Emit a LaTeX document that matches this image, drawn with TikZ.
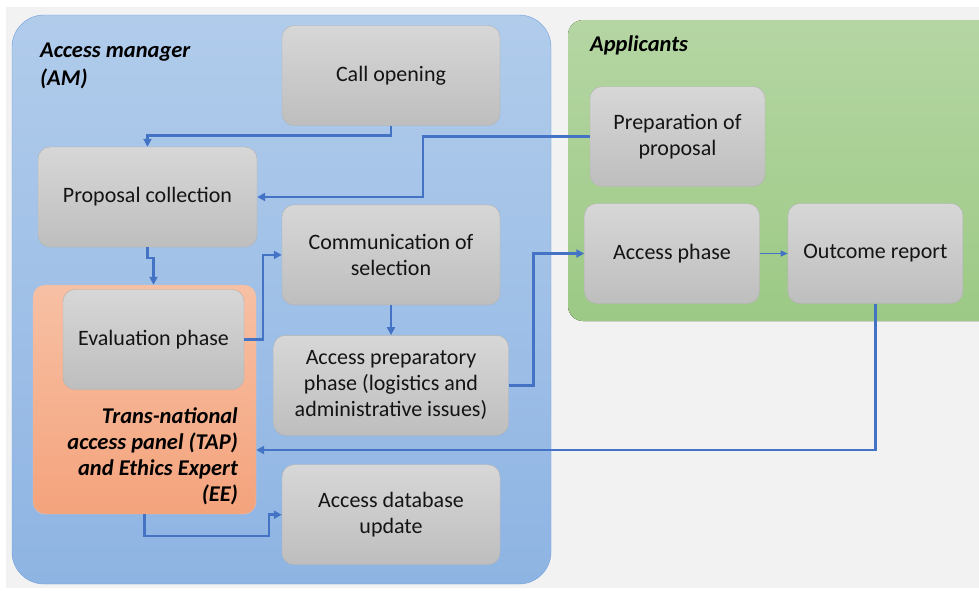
\documentclass[tikz,border=0pt]{standalone}
\usepackage{fontspec}
\setmainfont{Carlito}
\usepackage{tikz}
\usetikzlibrary{positioning}
\usetikzlibrary{calc}
\usetikzlibrary{arrows.meta}
\definecolor{bggray}{RGB}{242,242,242}
\definecolor{amtop}{RGB}{177,204,235}
\definecolor{ambot}{RGB}{142,180,227}
\definecolor{amline}{RGB}{112,160,222}
\definecolor{aptop}{RGB}{181,214,163}
\definecolor{apbot}{RGB}{156,201,133}
\definecolor{taptop}{RGB}{247,192,164}
\definecolor{tapbot}{RGB}{244,163,124}
\definecolor{boxtop}{RGB}{215,215,215}
\definecolor{boxbot}{RGB}{190,190,190}
\definecolor{boxline}{RGB}{178,178,178}
\definecolor{boxtext}{RGB}{20,20,20}
\definecolor{flowblue}{RGB}{68,114,196}
\tikzset{
	box/.style = {rectangle, rounded corners=12pt, draw=boxline, top color=boxtop, bottom color=boxbot, minimum height=100pt, align=center, inner sep=2pt, text=boxtext, font=\fontsize{22}{26}\selectfont},
	panel/.style = {rectangle, rounded corners=12pt, draw=tapbot!80!black!50, top color=taptop, bottom color=tapbot, minimum width=223pt, minimum height=229pt},
	title/.style = {inner sep=0pt, text=black, font=\fontsize{22.5}{26}\bfseries\itshape\selectfont},
	flow/.style = {draw=flowblue, line width=2.5pt, -{Triangle[length=8pt,width=8pt]}},
	thinflow/.style = {draw=flowblue, line width=1.2pt, -{Triangle[length=7pt,width=6pt]}}
}

\begin{document}
\begin{tikzpicture}[x=1pt, y=-1pt]
	\useasboundingbox (0,0) rectangle (979,590);
	\fill[white] (0,0) rectangle (979,590);
	\fill[bggray] (6,7) rectangle (979,588);
	
	% Groups
	\draw[amline, top color=amtop, bottom color=ambot, rounded corners=32pt] (12,15) rectangle (551,584);
	\fill[top color=aptop, bottom color=apbot, rounded corners=15pt] (568,20) rectangle (1010,321);
	\node (am) [title, anchor=west, align=left, font=\fontsize{22.5}{28}\bfseries\itshape\selectfont] at (40,66) {Access manager\\(AM)};
	\node (appl) [title, anchor=west] at (590,45) {Applicants};
	\node (tap) [panel] at (144.5,399.5) {};
	\node (taptext) [title, anchor=east, align=right] at (238,456) {Trans-national\\access panel (TAP)\\and Ethics Expert\\(EE)};
	
	% Steps
	\node (call) [box, minimum width=218pt] at (391,75.5) {Call opening};
	\node (comm) [box, minimum width=218pt, below = 79pt of call] {Communication of\\selection};
	\node (prepacc) [box, minimum width=235pt, below = 30pt of comm] {Access preparatory\\phase (logistics and\\administrative issues)};
	\node (dbupd) [box, minimum width=218pt, below = 29pt of prepacc] {Access database\\update};
	\node (collect) [box, minimum width=219pt] at (147.5,197) {Proposal collection};
	\node (eval) [box, minimum width=181pt] at (153.5,339.5) {Evaluation phase};
	\node (prepprop) [box, minimum width=175pt] at (677.5,136.5) {Preparation of\\proposal};
	\node (accph) [box, minimum width=175pt] at (672,253.5) {Access phase};
	\node (outcome) [box, minimum width=175pt, right = 28pt of accph] {Outcome report};
	
	% Flows
	\draw[flow] (call.south) -- ++(0,10) -| (collect.north);
	\draw[flow] (prepprop.west) -| ($(collect.east)+(166,0)$) -- (collect.east);
	\draw[flow] (collect.south) -- ++(0,11) -| (eval.north |- tap.north);
	\draw[flow] (eval.east) -- ++(19,0) |- (comm.west);
	\draw[flow] (comm) -- (prepacc);
	\draw[flow] (prepacc.east) -- ++(25,0) |- (accph.west);
	\draw[thinflow] (accph) -- (outcome);
	\draw[flow] (outcome.south) |- ($(tap.east)+(0,50.5)$);
	\draw[flow] (tap.south) -- ++(0,22) -| ($(dbupd.west)+(-13,0)$) -- (dbupd.west);
\end{tikzpicture}
\end{document}
